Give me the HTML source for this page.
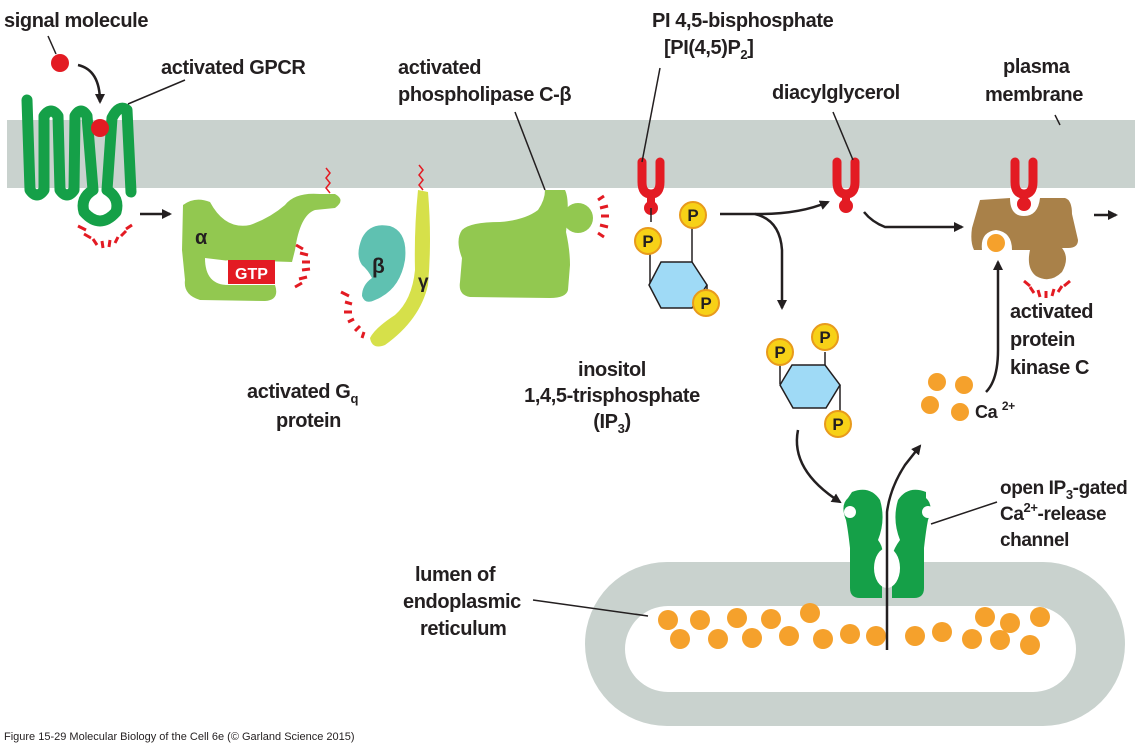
<!DOCTYPE html>
<html><head><meta charset="utf-8"><style>
html,body{margin:0;padding:0;background:#fff;}
svg{display:block;}
text{font-family:"Liberation Sans",sans-serif;font-weight:bold;fill:#231f20;}
</style></head><body>
<svg width="1140" height="745" viewBox="0 0 1140 745" xmlns="http://www.w3.org/2000/svg">
<defs>
<marker id="ah" markerWidth="10" markerHeight="10" refX="8" refY="5" orient="auto" markerUnits="userSpaceOnUse">
<path d="M0,0 L10,5 L0,10 Z" fill="#231f20"/></marker>
<g id="P"><circle r="13" fill="#f7d117" stroke="#e89a1c" stroke-width="2"/><text x="0" y="6" text-anchor="middle" font-size="17">P</text></g>
</defs>
<rect x="7" y="120" width="1128" height="68" fill="#c9d2ce"/>
<rect x="585" y="562" width="540" height="164" rx="82" fill="#c9d2ce"/>
<rect x="625" y="606" width="451" height="86" rx="43" fill="#fff"/>
<g fill="#f5a12c">
<circle cx="668" cy="620" r="10"/><circle cx="700" cy="620" r="10"/><circle cx="737" cy="618" r="10"/><circle cx="771" cy="619" r="10"/><circle cx="810" cy="613" r="10"/>
<circle cx="680" cy="639" r="10"/><circle cx="718" cy="639" r="10"/><circle cx="752" cy="638" r="10"/><circle cx="789" cy="636" r="10"/><circle cx="823" cy="639" r="10"/><circle cx="850" cy="634" r="10"/><circle cx="876" cy="636" r="10"/><circle cx="915" cy="636" r="10"/><circle cx="942" cy="632" r="10"/><circle cx="972" cy="639" r="10"/><circle cx="1000" cy="640" r="10"/>
<circle cx="985" cy="617" r="10"/><circle cx="1010" cy="623" r="10"/><circle cx="1040" cy="617" r="10"/><circle cx="1030" cy="645" r="10"/>
</g>
<g fill="#15a048">
<path d="M852,492 Q870,485 880,500 Q886,520 878,540 Q884,548 882,556 L882,598 L860,598 Q850,598 850,588 L850,548 Q848,530 846,520 Q840,505 848,498 Z"/>
<path d="M926,492 Q908,485 898,500 Q892,520 900,540 Q894,548 892,556 L892,598 L914,598 Q924,598 924,588 L924,548 Q926,530 928,520 Q934,505 926,498 Z"/>
</g>
<circle cx="850" cy="512" r="6" fill="#fff"/><circle cx="928" cy="512" r="6" fill="#fff"/>
<ellipse cx="887" cy="568" rx="13" ry="20" fill="#fff"/>
<path d="M887,650 L887,512 Q890,488 905,465 L920,446" fill="none" stroke="#231f20" stroke-width="2.5" marker-end="url(#ah)"/>
<!-- GPCR -->
<path d="M27,100 L30,190 Q37,200 44,190 L44,116 Q51,106 58,116 L60,190 Q67,200 74,190 L75,116 Q81,106 87,116 L93,190 Q80,198 84,212 Q100,230 116,212 Q120,198 107,190 L112,118 Q119,104 127,110 L131,192" fill="none" stroke="#15a048" stroke-width="11" stroke-linecap="round" stroke-linejoin="round"/>
<circle cx="100" cy="128" r="9" fill="#e31b23"/>
<circle cx="60" cy="63" r="9" fill="#e31b23"/>
<line x1="48" y1="36" x2="56" y2="54" stroke="#231f20" stroke-width="1.5"/>
<path d="M78,65 Q100,70 100,102" fill="none" stroke="#231f20" stroke-width="2.5" marker-end="url(#ah)"/>
<line x1="128" y1="104" x2="185" y2="80" stroke="#231f20" stroke-width="1.5"/>
<g stroke="#e31b23" stroke-width="3"><path d="M78,226l8,4M84,234l7,4M93,239l4,6M102,241l1,7M110,240l-1,7M118,237l-3,6M126,231l-5,5M132,225l-6,4"/></g>
<line x1="140" y1="214" x2="170" y2="214" stroke="#231f20" stroke-width="2.5" marker-end="url(#ah)"/>
<!-- alpha -->
<path d="M183,205 Q195,196 210,202 Q225,230 250,225 Q270,218 285,205 Q295,192 320,194 L335,194 Q346,200 335,208 L315,210 Q300,215 295,250 L292,262 L230,260 Q210,262 212,272 Q212,285 230,285 L275,285 Q280,300 265,301 L200,300 Q183,295 185,280 L182,250 Z" fill="#92c850"/>
<path d="M205,258 Q205,286 230,285 L275,284 L275,262 L230,261 Z" fill="#fff"/>
<rect x="228" y="260" width="47" height="24" fill="#e31b23"/>
<text x="251.5" y="279" text-anchor="middle" font-size="16" style="fill:#fff">GTP</text>
<text x="195" y="244" font-size="20">α</text>
<path d="M330,193 l-4,-5 4,-5 -4,-5 4,-5 -4,-5" fill="none" stroke="#e31b23" stroke-width="1.5"/>
<g stroke="#e31b23" stroke-width="3"><path d="M296,245l7,4M300,253l8,2M302,262l8,0M302,270l8,-1M299,279l8,-2M295,287l7,-4"/></g>
<path d="M362,238 Q370,222 390,226 Q408,232 405,260 Q400,290 375,300 Q365,305 362,296 Q362,285 372,278 Q368,270 362,265 Q355,255 362,238 Z" fill="#5fc1b1"/>
<path d="M418,190 L428,192 Q432,240 428,285 Q420,320 385,345 Q372,350 370,338 Q375,328 395,315 Q412,300 415,270 Q414,230 418,190 Z" fill="#d6e04a"/>
<path d="M423,190 l-4,-5 4,-5 -4,-5 4,-5 -4,-5" fill="none" stroke="#e31b23" stroke-width="1.5"/>
<text x="372" y="273" font-size="21">β</text>
<text x="418" y="288" font-size="19">γ</text>
<g stroke="#e31b23" stroke-width="3"><path d="M341,292l8,4M345,302l7,2M344,312l8,0M348,322l6,-3M355,331l5,-5M362,338l2,-6"/></g>
<path d="M545,190 L565,190 Q570,200 566,232 Q570,250 570,265 L568,290 Q566,298 550,298 L470,297 Q458,295 460,282 L462,258 Q455,240 462,230 Q470,222 500,222 Q525,220 538,210 Q545,200 545,190 Z" fill="#92c850"/>
<circle cx="578" cy="218" r="15" fill="#92c850"/>
<g stroke="#e31b23" stroke-width="3"><path d="M598,200l6,-4M600,208l8,-2M601,216l8,0M600,225l8,2M598,233l6,4"/></g>
<line x1="515" y1="112" x2="545" y2="190" stroke="#231f20" stroke-width="1.5"/>
<!-- PIP2 -->
<path d="M642,162 L642,182 Q642,194 651,194 Q660,194 660,182 L660,162" fill="none" stroke="#e31b23" stroke-width="9" stroke-linecap="round"/>
<line x1="651" y1="194" x2="651" y2="207" stroke="#e31b23" stroke-width="8"/>
<circle cx="651" cy="208" r="7" fill="#e31b23"/>
<line x1="651" y1="208" x2="651" y2="222" stroke="#231f20" stroke-width="1.5"/>
<line x1="650" y1="238" x2="650" y2="284" stroke="#231f20" stroke-width="1.5"/>
<line x1="692" y1="228" x2="692" y2="262" stroke="#231f20" stroke-width="1.5"/>
<line x1="707" y1="285" x2="707" y2="300" stroke="#231f20" stroke-width="1.5"/>
<polygon points="661,262 692,262 707,285 692,308 661,308 649,285" fill="#9fdaf6" stroke="#231f20" stroke-width="1.5"/>
<use href="#P" x="648" y="241"/><use href="#P" x="693" y="215"/><use href="#P" x="706" y="303"/>
<line x1="660" y1="68" x2="642" y2="162" stroke="#231f20" stroke-width="1.5"/>
<path d="M720,214 L760,214 Q800,214 828,202" fill="none" stroke="#231f20" stroke-width="2.5" marker-end="url(#ah)"/>
<path d="M755,214 Q780,220 782,250 L782,308" fill="none" stroke="#231f20" stroke-width="2.5" marker-end="url(#ah)"/>
<!-- DAG -->
<path d="M837,162 L837,182 Q837,194 846,194 Q855,194 855,182 L855,162" fill="none" stroke="#e31b23" stroke-width="9" stroke-linecap="round"/>
<line x1="846" y1="194" x2="846" y2="205" stroke="#e31b23" stroke-width="8"/>
<circle cx="846" cy="206" r="7" fill="#e31b23"/>
<line x1="833" y1="112" x2="853" y2="160" stroke="#231f20" stroke-width="1.5"/>
<path d="M864,212 Q872,222 885,227 L962,227" fill="none" stroke="#231f20" stroke-width="2.5" marker-end="url(#ah)"/>
<!-- PKC -->
<path d="M980,200 L1010,198 Q1010,216 1024,216 Q1038,216 1040,198 L1065,198 Q1072,200 1072,214 L1078,240 Q1078,248 1068,248 L1062,248 Q1070,258 1062,272 Q1050,284 1036,276 Q1026,268 1030,250 L1012,250 Q1012,232 996,230 Q980,232 982,250 L974,250 Q970,242 972,228 Z" fill="#a98149"/>
<circle cx="996" cy="243" r="9" fill="#f5a12c"/>
<path d="M1015,162 L1015,182 Q1015,194 1024,194 Q1033,194 1033,182 L1033,162" fill="none" stroke="#e31b23" stroke-width="9" stroke-linecap="round"/>
<line x1="1024" y1="194" x2="1024" y2="202" stroke="#e31b23" stroke-width="8"/>
<circle cx="1024" cy="204" r="7" fill="#e31b23"/>
<g stroke="#e31b23" stroke-width="3"><path d="M1024,281l6,5M1030,287l4,6M1038,290l2,7M1046,291l0,7M1054,289l-2,7M1062,286l-4,6M1070,281l-6,5"/></g>
<line x1="1094" y1="215" x2="1116" y2="215" stroke="#231f20" stroke-width="2.5" marker-end="url(#ah)"/>
<line x1="1055" y1="115" x2="1060" y2="125" stroke="#231f20" stroke-width="1.5"/>
<g fill="#f5a12c"><circle cx="937" cy="382" r="9"/><circle cx="964" cy="385" r="9"/><circle cx="930" cy="405" r="9"/><circle cx="960" cy="412" r="9"/></g>
<path d="M986,392 Q998,380 998,350 L998,262" fill="none" stroke="#231f20" stroke-width="2.5" marker-end="url(#ah)"/>
<!-- IP3 -->
<line x1="780" y1="365" x2="780" y2="384" stroke="#231f20" stroke-width="1.5"/>
<line x1="825" y1="352" x2="825" y2="365" stroke="#231f20" stroke-width="1.5"/>
<line x1="840" y1="385" x2="840" y2="412" stroke="#231f20" stroke-width="1.5"/>
<polygon points="792,365 825,365 840,385 826,408 793,408 780,385" fill="#9fdaf6" stroke="#231f20" stroke-width="1.5"/>
<use href="#P" x="780" y="352"/><use href="#P" x="825" y="337"/><use href="#P" x="838" y="424"/>
<path d="M798,430 Q790,470 840,502" fill="none" stroke="#231f20" stroke-width="2.5" marker-end="url(#ah)"/>
<line x1="931" y1="524" x2="997" y2="502" stroke="#231f20" stroke-width="1.5"/>
<line x1="533" y1="600" x2="648" y2="616" stroke="#231f20" stroke-width="1.5"/>
<g letter-spacing="-0.4">
<text x="4" y="27" font-size="20">signal molecule</text>
<text x="161" y="74" font-size="20">activated GPCR</text>
<text x="398" y="74" font-size="20">activated</text>
<text x="398" y="101" font-size="20">phospholipase C-β</text>
<text x="652" y="27" font-size="20">PI 4,5-bisphosphate</text>
<text x="664" y="54" font-size="20">[PI(4,5)P<tspan font-size="13" dy="5">2</tspan><tspan dy="-5">]</tspan></text>
<text x="772" y="99" font-size="20">diacylglycerol</text>
<text x="1003" y="73" font-size="20">plasma</text>
<text x="985" y="101" font-size="20">membrane</text>
<text x="247" y="398" font-size="20">activated G<tspan font-size="13" dy="5">q</tspan></text>
<text x="276" y="427" font-size="20">protein</text>
<text x="612" y="376" font-size="20" text-anchor="middle">inositol</text>
<text x="612" y="402" font-size="20" text-anchor="middle">1,4,5-trisphosphate</text>
<text x="612" y="428" font-size="20" text-anchor="middle">(IP<tspan font-size="13" dy="5">3</tspan><tspan dy="-5">)</tspan></text>
<text x="1010" y="318" font-size="20">activated</text>
<text x="1010" y="346" font-size="20">protein</text>
<text x="1010" y="374" font-size="20">kinase C</text>
<text x="975" y="418" font-size="18">Ca <tspan font-size="12" dy="-8">2+</tspan></text>
<text x="1000" y="494" font-size="19">open IP<tspan font-size="13" dy="5">3</tspan><tspan dy="-5">-gated</tspan></text>
<text x="1000" y="520" font-size="19">Ca<tspan font-size="13" dy="-8">2+</tspan><tspan dy="8">-release</tspan></text>
<text x="1000" y="546" font-size="19">channel</text>
<text x="415" y="581" font-size="20">lumen of</text>
<text x="403" y="608" font-size="20">endoplasmic</text>
<text x="420" y="635" font-size="20">reticulum</text>
</g>
<text x="4" y="740" font-size="11" style="font-weight:normal">Figure 15-29  Molecular Biology of the Cell 6e (© Garland Science 2015)</text>
</svg>
</body></html>
